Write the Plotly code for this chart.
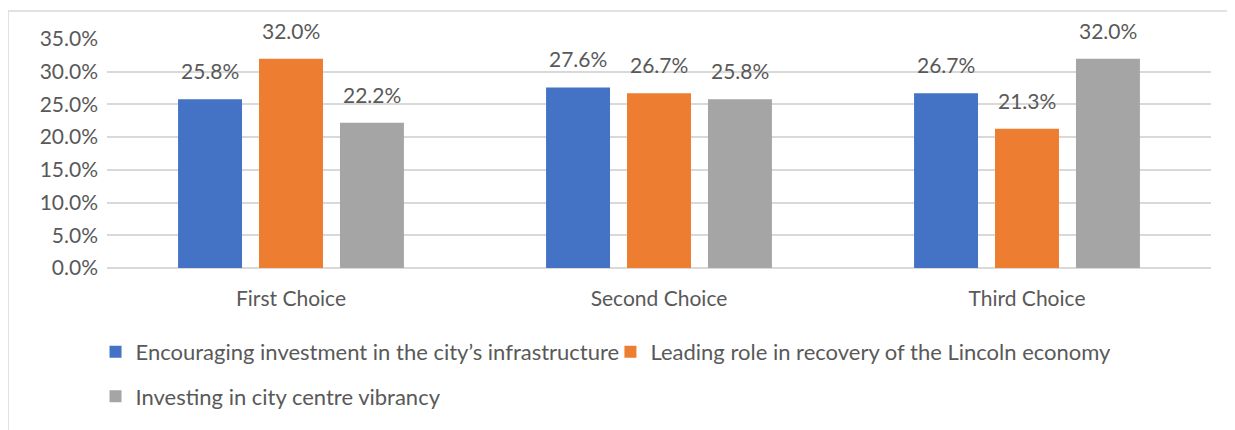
import plotly.graph_objects as go

# 數據
categories = ["First Choice", "Second Choice", "Third Choice"]
series_names = [
    "Encouraging investment in the city’s infrastructure",
    "Leading role in recovery of the Lincoln economy",
    "Investing in city centre vibrancy",
]
infrastructure = [0.258, 0.276, 0.267]
recovery = [0.320, 0.267, 0.213]
vibrancy = [0.222, 0.258, 0.320]
y_ticks = [0, 0.05, 0.10, 0.15, 0.20, 0.25, 0.30, 0.35]

COLORS = ["#4472C4", "#ED7D31", "#A5A5A5"]
TEXT = "#595959"
GRID = "#D9D9D9"
FONT = "Lato, sans-serif"
FS = 21
FS_LEGEND = 22

W, H = 1227, 422
M = dict(l=99, r=24, t=31, b=154)
PW = W - M["l"] - M["r"]
PH = H - M["t"] - M["b"]

fig = go.Figure()
all_values = [infrastructure, recovery, vibrancy]
legends = ["legend", "legend2", "legend3"]
for name, vals, color, lg in zip(series_names, all_values, COLORS, legends):
    fig.add_trace(go.Bar(
        x=categories, y=vals, name=name,
        marker=dict(color=color, line=dict(width=0)),
        legend=lg, showlegend=True,
    ))

# 資料標籤 (放在柱上方, 與柱頂留一點空隙)
slot = 81
for i, vals in enumerate(all_values):
    for cat, v in zip(categories, vals):
        fig.add_annotation(
            x=cat, y=v, xref="x", yref="y",
            text=f"{v:.1%}", showarrow=False,
            xshift=(i - 1) * slot, yshift=14, yanchor="bottom",
            font=dict(family=FONT, size=FS, color=TEXT),
        )

# 外框
fig.add_shape(type="rect", xref="paper", yref="paper",
              x0=-M["l"] / PW, x1=1.05, y0=-1.0, y1=(H - M["b"] - 2) / PH,
              line=dict(color=GRID, width=1.5), layer="below")

row1 = (H - M["b"] - 355) / PH
row2 = (H - M["b"] - 401) / PH
legend_style = dict(orientation="h", xanchor="left", yanchor="middle",
                    font=dict(size=FS_LEGEND, color=TEXT), itemwidth=30,
                    bgcolor="rgba(0,0,0,0)")

fig.update_layout(
    width=W, height=H,
    margin=M,
    showlegend=True,
    paper_bgcolor="white", plot_bgcolor="white",
    font=dict(family=FONT, size=FS, color=TEXT),
    barmode="group", bargap=0.34, bargroupgap=0.21,
    legend=dict(x=-0.0104, y=row1, **legend_style),
    legend2=dict(x=0.456, y=row1, **legend_style),
    legend3=dict(x=-0.0104, y=row2, **legend_style),
)
fig.update_yaxes(range=[0, 0.35], tickvals=y_ticks, tickformat=".1%",
                 gridcolor=GRID, gridwidth=1.5, zeroline=True, zerolinecolor=GRID,
                 zerolinewidth=1.5, showline=False, ticklabelstandoff=8,
                 automargin=False)
fig.update_xaxes(showgrid=False, showline=False, ticks="", ticklabelstandoff=16,
                 automargin=False)

fig.write_html("out.html")
